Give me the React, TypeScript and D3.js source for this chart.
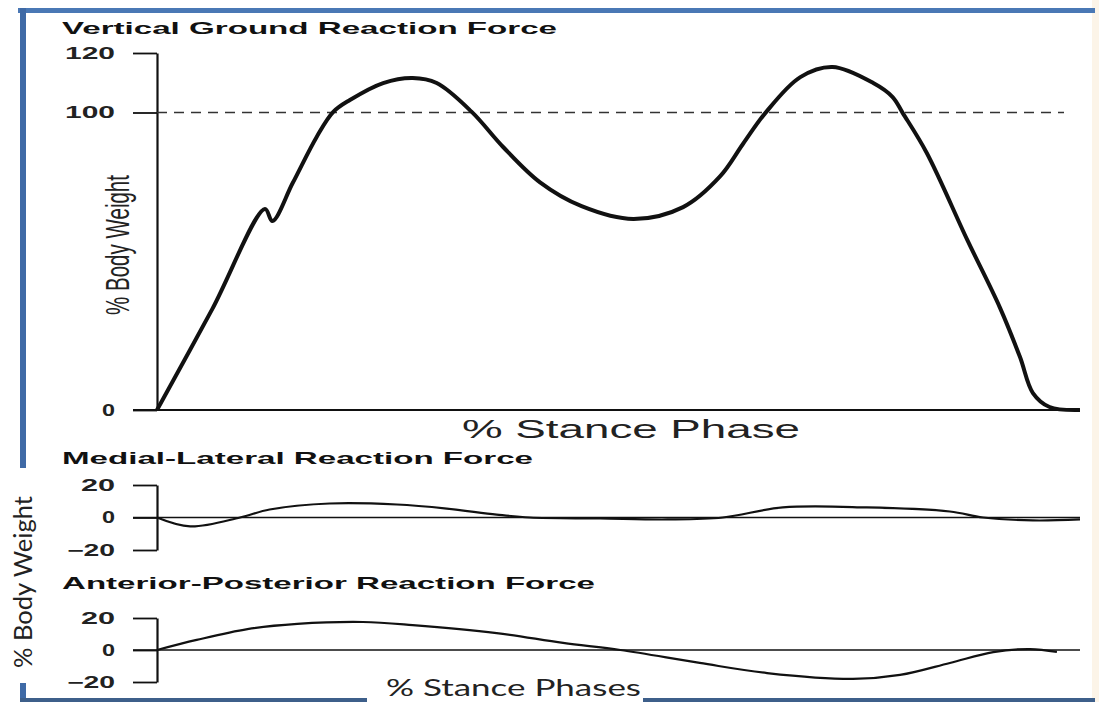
import React, { useEffect, useRef } from "react";
import * as d3 from "d3";

// vertical ground reaction force, % stance vs % body weight
const vgrfX = [0, 6, 11.7, 12.5, 14.7, 17.3, 19.1, 20.9, 24.5, 27.7, 30.3, 34.1, 37.5, 41.5, 46.0, 51.6, 57.0, 61.0, 63.5, 65.9, 69.7, 73.2, 77.6, 79.7, 80.8, 83.4, 87.8, 91.3, 93.5, 94.9, 96.7, 100];
const vgrfY = [0, 34, 67.6, 63.5, 76.3, 91.8, 100.2, 104.2, 109.9, 111.6, 109.9, 100.2, 88.4, 76.5, 68.5, 64.2, 68.2, 78.5, 89.5, 99.8, 111.9, 115.3, 109.9, 105.2, 99.8, 86.4, 57.1, 34.6, 17.8, 5.7, 1.0, 0];

// medial-lateral
const mlX = [0, 3.6, 9.0, 12.2, 18.7, 26.0, 31.4, 36.8, 40.4, 48.0, 55.3, 61.3, 67.8, 76.9, 85.9, 89.5, 94.9, 100];
const mlY = [0, -5.5, 0, 4.9, 8.6, 8.0, 5.5, 1.8, 0, -0.6, -1.2, 0, 6.2, 6.2, 3.7, 0, -1.8, -1.2];

// anterior-posterior
const apX = [0, 4.3, 9.8, 15.2, 22.3, 27.7, 36.8, 44.0, 50.2, 58.8, 66.1, 75.4, 80.5, 85.9, 90.6, 94.6, 97.5];
const apY = [0, 6.3, 13.1, 16.3, 17.5, 15.6, 10.6, 4.4, 0, -8.1, -14.4, -18.1, -15.6, -8.1, -1.3, 0.6, -1.2];

const mainTicks = [0, 100, 120];
const smallTicks = [-20, 0, 20];

const W = 1099;
const H = 702;

const App = () => {
  const ref = useRef<SVGSVGElement>(null);

  useEffect(() => {
    const svg = d3.select(ref.current);
    svg.selectAll("*").remove();

    const blue = "#4a78b5";
    const heavy = "'Liberation Sans', Arial, sans-serif";
    const calibri = "Lato, 'Open Sans', sans-serif";

    // frame
    svg.append("rect").attr("x", 1092).attr("y", 0).attr("width", 7).attr("height", H).attr("fill", "#fcf4e8");
    svg.append("rect").attr("x", 18).attr("y", 8).attr("width", 1077).attr("height", 5).attr("fill", blue);
    svg.append("rect").attr("x", 20).attr("y", 8).attr("width", 6).attr("height", 460).attr("fill", "#3f6aa6");
    svg.append("rect").attr("x", 20).attr("y", 683).attr("width", 6).attr("height", 19).attr("fill", "#3f6aa6");
    svg.append("rect").attr("x", 20).attr("y", 698).attr("width", 347).attr("height", 4).attr("fill", "#3d5f8a");
    svg.append("rect").attr("x", 643).attr("y", 698).attr("width", 452).attr("height", 4).attr("fill", "#3d5f8a");

    const x = d3.scaleLinear().domain([0, 100]).range([157, 1080]);
    const yMain = d3.scaleLinear().domain([0, 120]).range([410, 53]);
    const yMl = d3.scaleLinear().domain([-20, 20]).range([550, 485]);
    const yAp = d3.scaleLinear().domain([-20, 20]).range([682, 618]);

    const title = (t: string, yy: number, len: number) =>
      svg.append("text").attr("x", 62).attr("y", yy).attr("font-family", heavy)
        .attr("font-weight", 900).attr("font-size", 17).attr("fill", "#111")
        .attr("textLength", len).attr("lengthAdjust", "spacingAndGlyphs").text(t);

    title("Vertical Ground Reaction Force", 34, 495);
    title("Medial-Lateral Reaction Force", 464, 471);
    title("Anterior-Posterior Reaction Force", 589, 533);

    // bracket style axis with ticks on the left
    const drawAxis = (y: d3.ScaleLinear<number, number>, ticks: number[], fs: number, widths: number[]) => {
      const g = svg.append("g").attr("transform", `translate(${x(0)},0)`);
      g.call(d3.axisLeft(y).tickValues(ticks).tickSize(24).tickSizeOuter(0).tickPadding(18).tickFormat(d3.format("d")));
      g.select(".domain").attr("stroke", "#111").attr("stroke-width", 2.2);
      g.selectAll(".tick line").attr("stroke", "#111").attr("stroke-width", 1.8);
      g.selectAll(".tick text").attr("font-family", heavy).attr("font-weight", 700)
        .attr("font-size", fs).attr("fill", "#222")
        .attr("textLength", (d: any) => widths[String(d).length - 1])
        .attr("lengthAdjust", "spacingAndGlyphs");
      return g;
    };

    const lineOf = () => d3.line<number>().x((d) => x(d)).curve(d3.curveCatmullRom.alpha(0.5));

    // main panel
    drawAxis(yMain, mainTicks, 17, [13, 34, 50]);
    svg.append("line").attr("x1", 133).attr("x2", x(100)).attr("y1", yMain(0)).attr("y2", yMain(0))
      .attr("stroke", "#111").attr("stroke-width", 1.8);
    svg.append("line").attr("x1", x(0)).attr("x2", 1064).attr("y1", yMain(100)).attr("y2", yMain(100))
      .attr("stroke", "#333").attr("stroke-width", 1.6).attr("stroke-dasharray", "10,7");
    svg.append("path")
      .attr("d", lineOf().y((_, i) => yMain(vgrfY[i]))(vgrfX))
      .attr("fill", "none").attr("stroke", "#111").attr("stroke-width", 4).attr("stroke-linejoin", "round");

    svg.append("text").attr("transform", "translate(129,245) rotate(-90)").attr("text-anchor", "middle")
      .attr("font-family", heavy).attr("font-size", 34).attr("fill", "#222")
      .attr("textLength", 140).attr("lengthAdjust", "spacingAndGlyphs").text("% Body Weight");
    svg.append("text").attr("x", 631).attr("y", 438).attr("text-anchor", "middle")
      .attr("font-family", heavy).attr("font-size", 25).attr("fill", "#222")
      .attr("textLength", 338).attr("lengthAdjust", "spacingAndGlyphs").text("% Stance Phase");

    // small panels
    const small = (y: d3.ScaleLinear<number, number>, xs: number[], ys: number[]) => {
      drawAxis(y, smallTicks, 16, [13, 34, 48]);
      svg.append("line").attr("x1", 133).attr("x2", x(100)).attr("y1", y(0)).attr("y2", y(0))
        .attr("stroke", "#111").attr("stroke-width", 1.4);
      svg.append("path")
        .attr("d", lineOf().y((_, i) => y(ys[i]))(xs))
        .attr("fill", "none").attr("stroke", "#111").attr("stroke-width", 2.2);
    };
    small(yMl, mlX, mlY);
    small(yAp, apX, apY);

    svg.append("text").attr("transform", "translate(32,582) rotate(-90)").attr("text-anchor", "middle")
      .attr("font-family", calibri).attr("font-size", 25).attr("fill", "#222")
      .attr("textLength", 172).attr("lengthAdjust", "spacingAndGlyphs").text("% Body Weight");
    svg.append("text").attr("x", 386).attr("y", 696)
      .attr("font-family", calibri).attr("font-size", 24).attr("fill", "#222")
      .attr("textLength", 255).attr("lengthAdjust", "spacingAndGlyphs").text("% Stance Phases");
  }, []);

  return (
    <svg ref={ref} width={W} height={H} style={{ position: "absolute", left: 0, top: 0, background: "#fff" }} />
  );
};

export default App;
